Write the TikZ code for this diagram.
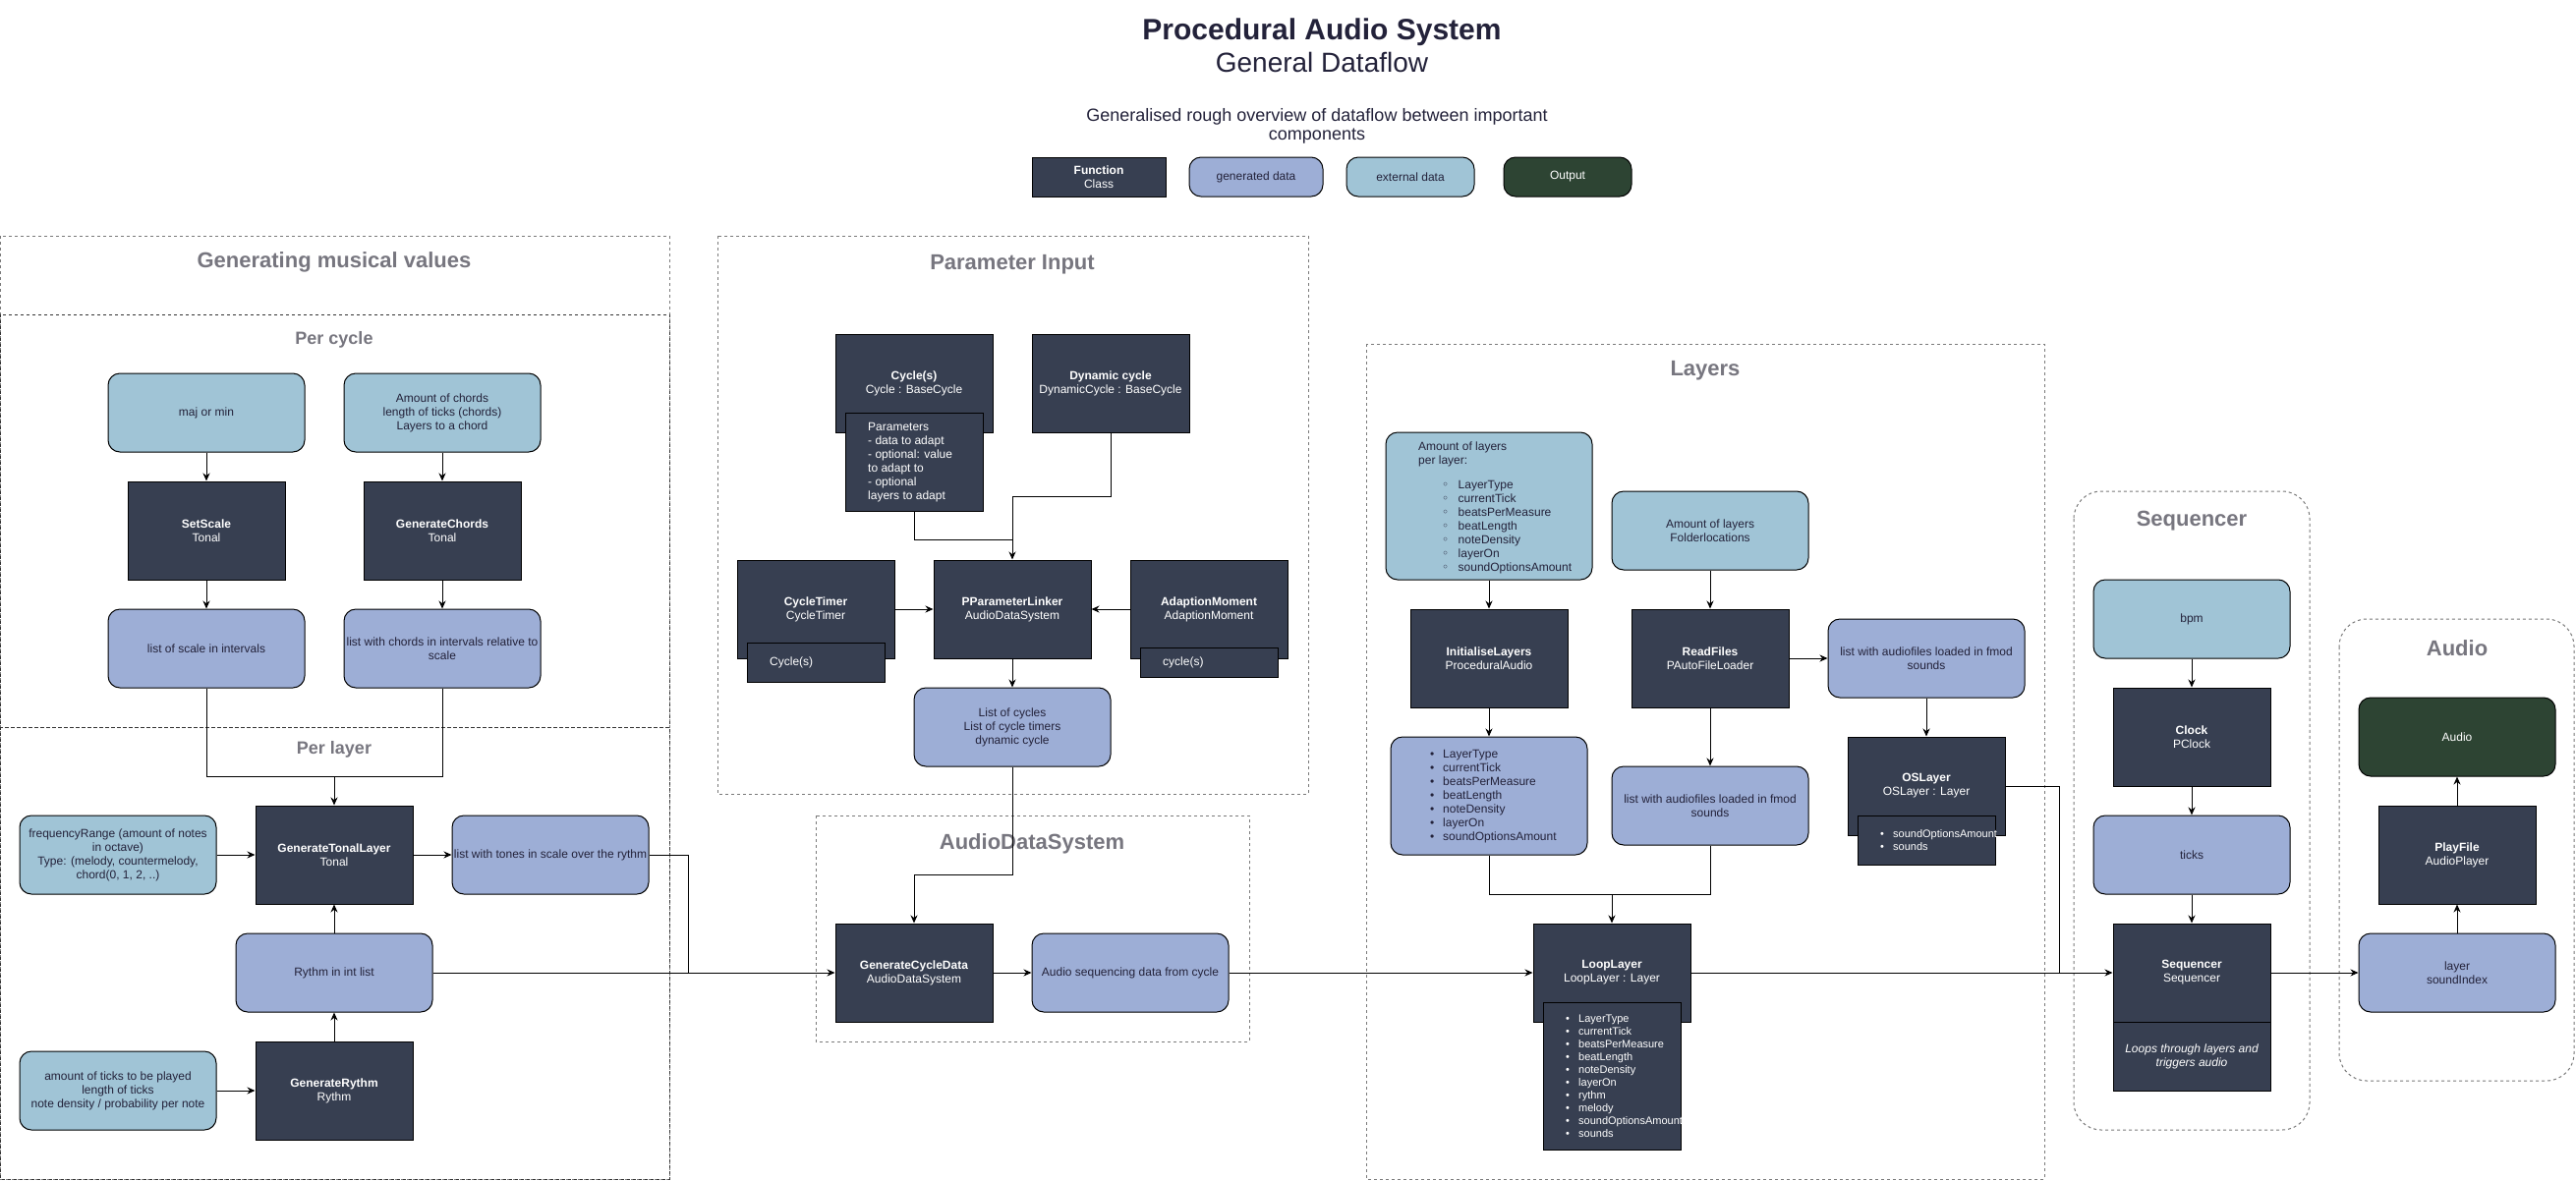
\documentclass[tikz,border=0pt]{standalone}
\usepackage{fontspec}
\setmainfont{Liberation Sans}
\newfontfamily\symfont{DejaVu Sans}
\usetikzlibrary{arrows.meta}

\definecolor{fnfill}{HTML}{373F51}
\definecolor{genfill}{HTML}{9DAED6}
\definecolor{extfill}{HTML}{A0C4D6}
\definecolor{outfill}{HTML}{2D4433}
\definecolor{ink}{HTML}{23223A}
\definecolor{grouptitle}{HTML}{77767F}
\definecolor{groupline}{HTML}{7A7A7A}

\newcommand\fsz[2]{\fontsize{#1pt}{#2pt}\selectfont}
% bullet markers for the attribute lists
\newcommand\blt{\makebox[13pt][l]{\textbullet}}
\newcommand\cblt{\makebox[16.5pt][l]{{\symfont ◦}}}

\tikzset{
  box/.style={draw=black, line width=1pt, inner sep=0pt, align=center, font=\fsz{12}{14}},
  fn/.style={box, fill=fnfill, text=white, minimum width=160pt, minimum height=100pt},
  fnsub/.style={box, fill=fnfill, text=white},
  gen/.style={box, fill=genfill, text=ink, rounded corners=12pt, minimum width=200pt, minimum height=80pt},
  ext/.style={box, fill=extfill, text=ink, rounded corners=12pt, minimum width=200pt, minimum height=80pt},
  outbox/.style={box, fill=outfill, text=white, rounded corners=12pt, minimum width=200pt, minimum height=80pt},
  lbl/.style={inner sep=0pt, align=left, font=\fsz{12}{14}},
  grp/.style={draw=groupline, line width=1pt, dash pattern=on 3pt off 3pt},
  subgrp/.style={draw=black!80, line width=1pt, dash pattern=on 3pt off 3pt},
  grptitle/.style={text=grouptitle, font=\fsz{22}{26}\bfseries, inner sep=0pt},
  subtitle/.style={text=grouptitle, font=\fsz{18}{22}\bfseries, inner sep=0pt},
  flow/.style={draw=black, line width=1pt, -{Stealth[length=8pt,width=7pt]}},
  link/.style={draw=black, line width=1pt},
}

\begin{document}
\begin{tikzpicture}[x=1pt,y=-1pt]
\useasboundingbox[fill=white] (0,0) rectangle (2621,1202);

% ---------- heading ----------
\node[anchor=base, inner sep=0pt, text=ink, font=\fsz{30}{36}\bfseries] (title) at (1345,40) {Procedural Audio System};
\node[anchor=base, inner sep=0pt, text=ink, font=\fsz{28}{34}] (subtitle) at (1345,73) {General Dataflow};
\node[anchor=base, inner sep=0pt, text=ink, font=\fsz{18}{19}] (intro1) at (1340,123)
  {Generalised rough overview of dataflow between important};
\node[anchor=base, inner sep=0pt, text=ink, font=\fsz{18}{19}] (intro2) at (1340,142) {components};

% ---------- legend ----------
\node[fn, minimum width=136pt, minimum height=40pt] (legfn) at (1118,180) {\textbf{Function}\\Class};
\node[gen, minimum width=136pt, minimum height=40pt] (leggen) at (1278,180) {generated data};
\node[ext, minimum width=130pt, minimum height=40pt] (legext) at (1435,180) {external data};
\node[outbox, minimum width=130pt, minimum height=40pt] (legout) at (1595,180) {Output};

% ---------- group frames ----------
\draw[grp] (0,240) rectangle (681,1200);
\draw[subgrp] (0,320) rectangle (681,740);
\draw[subgrp] (0,740) rectangle (681,1200);
\draw[grp] (730,240) rectangle (1331,808);
\draw[grp] (830,830) rectangle (1271,1060);
\draw[grp] (1390,350) rectangle (2080,1200);
\draw[grp, rounded corners=28pt] (2110,500) rectangle (2350,1150);
\draw[grp, rounded corners=28pt] (2380,630) rectangle (2619,1100);

\node[grptitle] (tgen) at (340,267) {Generating musical values};
\node[subtitle] (tcycle) at (340,346) {Per cycle};
\node[subtitle] (tlayer) at (340,763) {Per layer};
\node[grptitle] (tparam) at (1030,269) {Parameter Input};
\node[grptitle] (tads) at (1050,859) {AudioDataSystem};
\node[grptitle] (tlayers) at (1735,377) {Layers};
\node[grptitle] (tseq) at (2230,530) {Sequencer};
\node[grptitle] (taudio) at (2500,660) {Audio};

% ---------- generating musical values: per cycle ----------
\node[ext] (majmin) at (210,420) {maj or min};
\node[ext] (chordsin) at (450,420) {Amount of chords\\length of ticks (chords)\\Layers to a chord};
\node[fn] (setscale) at (210,540) {\textbf{SetScale}\\Tonal};
\node[fn] (genchords) at (450,540) {\textbf{GenerateChords}\\Tonal};
\node[gen] (scalelist) at (210,660) {list of scale in intervals};
\node[gen] (chordlist) at (450,660) {list with chords in intervals relative to\\scale};

% ---------- generating musical values: per layer ----------
\node[ext] (freqin) at (120,870) {frequencyRange (amount of notes\\in octave)\\Type: (melody, countermelody,\\chord(0, 1, 2, ..)};
\node[fn] (tonal) at (340,870) {\textbf{GenerateTonalLayer}\\Tonal};
\node[gen] (tones) at (560,870) {list with tones in scale over the rythm};
\node[gen] (rythmlist) at (340,990) {Rythm in int list};
\node[ext] (ticksin) at (120,1110) {amount of ticks to be played\\length of ticks\\note density / probability per note};
\node[fn] (genrythm) at (340,1110) {\textbf{GenerateRythm}\\Rythm};

% ---------- parameter input ----------
\node[fn] (cycles) at (930,390) {\textbf{Cycle(s)}\\Cycle : BaseCycle};
\node[fnsub, minimum width=140pt, minimum height=100pt] (params) at (930,470) {};
\node[lbl, text=white, anchor=west] (paramstxt) at (883,471)
  {Parameters\\- data to adapt\\- optional: value\\to adapt to\\- optional\\layers to adapt};
\node[fn] (dyncycle) at (1130,390) {\textbf{Dynamic cycle}\\DynamicCycle : BaseCycle};
\node[fn] (ctimer) at (830,620) {\textbf{CycleTimer}\\CycleTimer};
\node[fnsub, minimum width=140pt, minimum height=40pt] (ctimerbox) at (830,674) {};
\node[lbl, text=white, anchor=west] (ctimertxt) at (783,674) {Cycle(s)};
\node[fn] (linker) at (1030,620) {\textbf{PParameterLinker}\\AudioDataSystem};
\node[fn] (adapt) at (1230,620) {\textbf{AdaptionMoment}\\AdaptionMoment};
\node[fnsub, minimum width=140pt, minimum height=30pt] (adaptbox) at (1230,674) {};
\node[lbl, text=white, anchor=west] (adapttxt) at (1183,674) {cycle(s)};
\node[gen] (cyclelist) at (1030,740) {List of cycles\\List of cycle timers\\dynamic cycle};

% ---------- audio data system ----------
\node[fn] (gencycle) at (930,990) {\textbf{GenerateCycleData}\\AudioDataSystem};
\node[gen] (audioseq) at (1150,990) {Audio sequencing data from cycle};

% ---------- layers ----------
\node[ext, minimum width=210pt, minimum height=150pt] (layersin) at (1515,515) {};
\node[lbl, text=ink, anchor=west] (layersinhead) at (1443,462) {Amount of layers\\per layer:};
\node[lbl, text=ink, anchor=west] (layersinlist) at (1467,537)
  {\cblt LayerType\\\cblt currentTick\\\cblt beatsPerMeasure\\\cblt beatLength\\\cblt noteDensity\\\cblt layerOn\\\cblt soundOptionsAmount};
\node[ext] (folderin) at (1740,540) {Amount of layers\\Folderlocations};
\node[fn] (initlayers) at (1515,670) {\textbf{InitialiseLayers}\\ProceduralAudio};
\node[fn] (readfiles) at (1740,670) {\textbf{ReadFiles}\\PAutoFileLoader};
\node[gen] (fmodlist) at (1960,670) {list with audiofiles loaded in fmod\\sounds};
\node[gen, minimum height=120pt] (layerlist) at (1515,810) {};
\node[lbl, text=ink, anchor=west] (layerlisttxt) at (1455,811)
  {\blt LayerType\\\blt currentTick\\\blt beatsPerMeasure\\\blt beatLength\\\blt noteDensity\\\blt layerOn\\\blt soundOptionsAmount};
\node[gen] (fmodsounds) at (1740,820) {list with audiofiles loaded in fmod\\sounds};
\node[fn] (oslayer) at (1960,800) {\textbf{OSLayer}\\OSLayer : Layer};
\node[fnsub, minimum width=140pt, minimum height=50pt] (osbox) at (1960,855) {};
\node[lbl, text=white, anchor=west, font=\fsz{11}{13}] (ostxt) at (1913,855.5)
  {\blt soundOptionsAmount\\\blt sounds};
\node[fn] (looplayer) at (1640,990) {\textbf{LoopLayer}\\LoopLayer : Layer};
\node[fnsub, minimum width=140pt, minimum height=150pt] (loopbox) at (1640,1095) {};
\node[lbl, text=white, anchor=west, font=\fsz{11}{13}] (looptxt) at (1593,1095.5)
  {\blt LayerType\\\blt currentTick\\\blt beatsPerMeasure\\\blt beatLength\\\blt noteDensity\\\blt layerOn\\\blt rythm\\\blt melody\\\blt soundOptionsAmount\\\blt sounds};

% ---------- sequencer ----------
\node[ext] (bpm) at (2230,630) {bpm};
\node[fn] (clock) at (2230,750) {\textbf{Clock}\\PClock};
\node[gen] (ticks) at (2230,870) {ticks};
\node[fn] (sequencer) at (2230,990) {\textbf{Sequencer}\\Sequencer};
\node[fnsub, minimum width=160pt, minimum height=70pt, font=\fsz{12}{14}\itshape] (seqnote) at (2230,1075)
  {Loops through layers and\\triggers audio};

% ---------- audio ----------
\node[outbox] (audioout) at (2500,750) {Audio};
\node[fn] (playfile) at (2500,870) {\textbf{PlayFile}\\AudioPlayer};
\node[gen] (layerin) at (2500,990) {layer\\soundIndex};

% ---------- connectors ----------
\coordinate (mergescale) at (340,790);
\coordinate (mergetones) at (700,990);
\coordinate (mergeparams) at (1030,549);
\coordinate (dynbend) at (1030,505);
\coordinate (cyclebend) at (1030,890);
\coordinate (mergelayers) at (1640,910);
\coordinate (mergeos) at (2095,990);

\draw[flow] (majmin) -- (setscale);
\draw[flow] (chordsin) -- (genchords);
\draw[flow] (setscale) -- (scalelist);
\draw[flow] (genchords) -- (chordlist);
\draw[link] (scalelist.south) |- (mergescale);
\draw[flow] (chordlist.south) |- (mergescale) -- (tonal.north);
\draw[flow] (freqin) -- (tonal);
\draw[flow] (tonal) -- (tones);
\draw[flow] (rythmlist) -- (tonal);
\draw[flow] (genrythm) -- (rythmlist);
\draw[flow] (ticksin) -- (genrythm);
\draw[link] (tones.east) -| (mergetones);
\draw[flow] (rythmlist.east) -- (gencycle.west);

\draw[link] (params.south) |- (mergeparams);
\draw[flow] (dyncycle.south) |- (dynbend) -- (linker.north);
\draw[flow] (ctimer) -- (linker);
\draw[flow] (adapt) -- (linker);
\draw[flow] (linker) -- (cyclelist);
\draw[flow] (cyclelist.south) -- (cyclebend) -| (gencycle.north);
\draw[flow] (gencycle) -- (audioseq);
\draw[flow] (audioseq.east) -- (looplayer.west);

\draw[flow] (layersin.south) -- (initlayers.north);
\draw[flow] (initlayers) -- (layerlist);
\draw[flow] (folderin) -- (readfiles);
\draw[flow] (readfiles) -- (fmodlist);
\draw[flow] (readfiles) -- (fmodsounds);
\draw[flow] (fmodlist) -- (oslayer);
\draw[link] (layerlist.south) |- (mergelayers);
\draw[flow] (fmodsounds.south) |- (mergelayers) -- (looplayer.north);
\draw[flow] (looplayer.east) -- (sequencer.west);
\draw[link] (oslayer.east) -| (mergeos);

\draw[flow] (bpm) -- (clock);
\draw[flow] (clock) -- (ticks);
\draw[flow] (ticks) -- (sequencer);
\draw[flow] (sequencer.east) -- (layerin.west);
\draw[flow] (layerin) -- (playfile);
\draw[flow] (playfile) -- (audioout);
\end{tikzpicture}
\end{document}
